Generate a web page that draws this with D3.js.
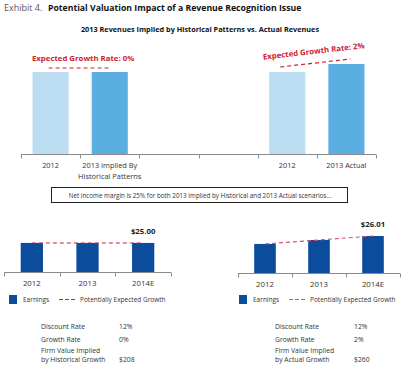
<!DOCTYPE html>
<html>
<head>
<meta charset="utf-8">
<script src="https://cdn.jsdelivr.net/npm/d3@7"></script>
<style>
  body { margin:0; background:#fff; }
  svg text { font-family: "Open Sans", sans-serif; }
</style>
</head>
<body>
<div id="chart"></div>
<script>
// revenue panel
var revCats = ["hist2012", "histImplied", "gapA", "gapB", "act2012", "act2013"];
var revLabels = [["2012"], ["2013 Implied By", "Historical Patterns"], [""], [""], ["2012"], ["2013 Actual"]];
var revValues = [100, 100, null, null, 100, 102];
var revColors = ["#bcdcf2", "#5aaee2", null, null, "#bcdcf2", "#5aaee2"];

// earnings panels
var years = ["2012", "2013", "2014E"];
var earnHist = [25.00, 25.00, 25.00];
var earnActual = [25.00, 25.50, 26.01];

var tableRows = [["Discount Rate"], ["Growth Rate"], ["Firm Value Implied", "by Historical Growth"]];
var tableRowsR = [["Discount Rate"], ["Growth Rate"], ["Firm Value Implied", "by Actual Growth"]];
var tableHist = ["12%", "0%", "$208"];
var tableActual = ["12%", "2%", "$260"];

var width = 404, height = 367;
var red = "#d0202f", pink = "#d9506c", dark = "#0c4c9c", axisCol = "#8a8a8a", txt = "#333";

var svg = d3.select("#chart").append("svg")
    .attr("width", width).attr("height", height)

// header
svg.append("text").attr("x", 4).attr("y", 11).attr("font-size", 9).attr("fill", "#555").text("Exhibit 4.")
svg.append("text").attr("x", 48).attr("y", 11).attr("font-size", 8.7).attr("font-weight", "bold").attr("fill", "#111")
    .text("Potential Valuation Impact of a Revenue Recognition Issue")
svg.append("text").attr("x", 200).attr("y", 32).attr("font-size", 7.3).attr("font-weight", "bold").attr("fill", "#111")
    .attr("text-anchor", "middle").text("2013 Revenues Implied by Historical Patterns vs. Actual Revenues")

// ---------- top chart ----------
var xTop = d3.scaleBand().domain(revCats).range([21, 376]).paddingInner(0.39).paddingOuter(0.195)
var yTop = d3.scaleLinear().domain([79.5, 102]).range([154, 64])
var topG = svg.append("g")

topG.selectAll(".rev").data(revCats.filter(function(c, i){ return revValues[i] != null }))
    .enter().append("rect").attr("class", "rev")
    .attr("x", function(d){ return xTop(d) })
    .attr("width", xTop.bandwidth())
    .attr("y", function(d){ return yTop(revValues[revCats.indexOf(d)]) })
    .attr("height", function(d){ return yTop.range()[0] - yTop(revValues[revCats.indexOf(d)]) })
    .attr("fill", function(d){ return revColors[revCats.indexOf(d)] })

function slotAxis(g, x, y0) {
    var r = x.range(), step = x.step()
    g.append("line").attr("x1", r[0]).attr("x2", r[1]).attr("y1", y0).attr("y2", y0)
        .attr("stroke", axisCol).attr("stroke-width", 1)
    d3.range(x.domain().length + 1).forEach(function(i){
        var xx = Math.round(r[0] + i * step) + 0.5
        g.append("line").attr("x1", xx).attr("x2", xx).attr("y1", y0).attr("y2", y0 + 4)
            .attr("stroke", axisCol)
    })
}
slotAxis(topG, xTop, 154.5)

revCats.forEach(function(c, i){
    revLabels[i].forEach(function(l, j){
        topG.append("text").attr("x", xTop(c) + xTop.bandwidth()/2).attr("y", 168 + j * 11)
            .attr("text-anchor", "middle").attr("font-size", 7.4).attr("fill", txt).text(l)
    })
})

// expected growth annotations
var c1 = xTop("hist2012") + xTop.bandwidth()/2, c2 = xTop("histImplied") + xTop.bandwidth()/2
topG.append("line").attr("x1", c1 - 2).attr("x2", c2 + 1)
    .attr("y1", yTop(revValues[0]) - 4).attr("y2", yTop(revValues[1]) - 4)
    .attr("stroke", red).attr("stroke-width", 1.2).attr("stroke-dasharray", "4,3")
topG.append("text").attr("x", 32).attr("y", 60.5).attr("font-size", 7.8).attr("font-weight", "bold")
    .attr("fill", red).text("Expected Growth Rate: 0%")

var c3 = xTop("act2012") + xTop.bandwidth()/2, c4 = xTop("act2013") + xTop.bandwidth()/2
topG.append("line").attr("x1", c3 - 7).attr("x2", c4 + 4)
    .attr("y1", yTop(revValues[4]) - 5).attr("y2", yTop(revValues[5]) - 5)
    .attr("stroke", red).attr("stroke-width", 1.2).attr("stroke-dasharray", "4,3")
topG.append("text").attr("transform", "translate(314,54) rotate(-6.5)").attr("text-anchor", "middle")
    .attr("font-size", 7.8).attr("font-weight", "bold").attr("fill", red).text("Expected Growth Rate: 2%")

// note box
svg.append("rect").attr("x", 51.5).attr("y", 187.5).attr("width", 296).attr("height", 15)
    .attr("fill", "none").attr("stroke", "#222").attr("stroke-width", 1)
svg.append("text").attr("x", 200).attr("y", 197.5).attr("text-anchor", "middle").attr("font-size", 6.3)
    .attr("fill", txt).text("Net income margin is 25% for both 2013 Implied by Historical and 2013 Actual scenarios...")

// ---------- earnings charts ----------
function earnings(values, x0, x1, base, lineCol) {
    var g = svg.append("g")
    var x = d3.scaleBand().domain(years).range([x0, x1]).paddingInner(0.6).paddingOuter(0.3)
    var y = d3.scaleLinear().domain([21.3, 26.01]).range([base, base - 37])
    g.selectAll("rect").data(values).enter().append("rect")
        .attr("x", function(d, i){ return x(years[i]) })
        .attr("width", x.bandwidth())
        .attr("y", function(d){ return y(d) })
        .attr("height", function(d){ return base - y(d) })
        .attr("fill", dark)
    slotAxis(g, x, base + 0.5)
    years.forEach(function(yr){
        g.append("text").attr("x", x(yr) + x.bandwidth()/2).attr("y", base + 14)
            .attr("text-anchor", "middle").attr("font-size", 7.8).attr("fill", txt).text(yr)
    })
    var line = d3.line().x(function(d, i){ return x(years[i]) + x.bandwidth()/2 }).y(function(d){ return y(d) })
    g.append("path").attr("d", line(values)).attr("fill", "none")
        .attr("stroke", lineCol).attr("stroke-width", 1.1).attr("stroke-dasharray", "4,3")
    var last = values[values.length - 1]
    g.append("text").attr("x", x(years[2]) + x.bandwidth()/2).attr("y", y(last) - 9)
        .attr("text-anchor", "middle").attr("font-size", 7.8).attr("font-weight", "bold").attr("fill", "#222")
        .text("$" + d3.format(".2f")(last))
    return g
}
earnings(earnHist, 4, 171, 272, red)
earnings(earnActual, 238, 400, 273, pink)

// legends
function legend(x0, lineCol) {
    var g = svg.append("g").attr("transform", "translate(" + x0 + ",0)")
    g.append("rect").attr("x", 0).attr("y", 295).attr("width", 8).attr("height", 9).attr("fill", dark)
    g.append("text").attr("x", 14).attr("y", 301.5).attr("font-size", 6.5).attr("fill", txt).text("Earnings")
    g.append("line").attr("x1", 50).attr("x2", 66).attr("y1", 299.5).attr("y2", 299.5)
        .attr("stroke", lineCol).attr("stroke-width", 1.1).attr("stroke-dasharray", "4,2")
    g.append("text").attr("x", 71).attr("y", 301.5).attr("font-size", 6.5).attr("fill", txt).text("Potentially Expected Growth")
}
legend(9, red)
legend(239, pink)

// valuation tables
function table(rows, vals, lx, vx) {
    var ys = [329, 342, 353]
    rows.forEach(function(r, i){
        r.forEach(function(l, j){
            svg.append("text").attr("x", lx).attr("y", ys[i] + j * 9).attr("font-size", 6.8).attr("fill", txt).text(l)
        })
        svg.append("text").attr("x", vx).attr("y", ys[i] + (rows[i].length - 1) * 9)
            .attr("font-size", 6.8).attr("fill", txt).text(vals[i])
    })
}
table(tableRows, tableHist, 41, 119)
table(tableRowsR, tableActual, 275, 354)
</script>
</body>
</html>
